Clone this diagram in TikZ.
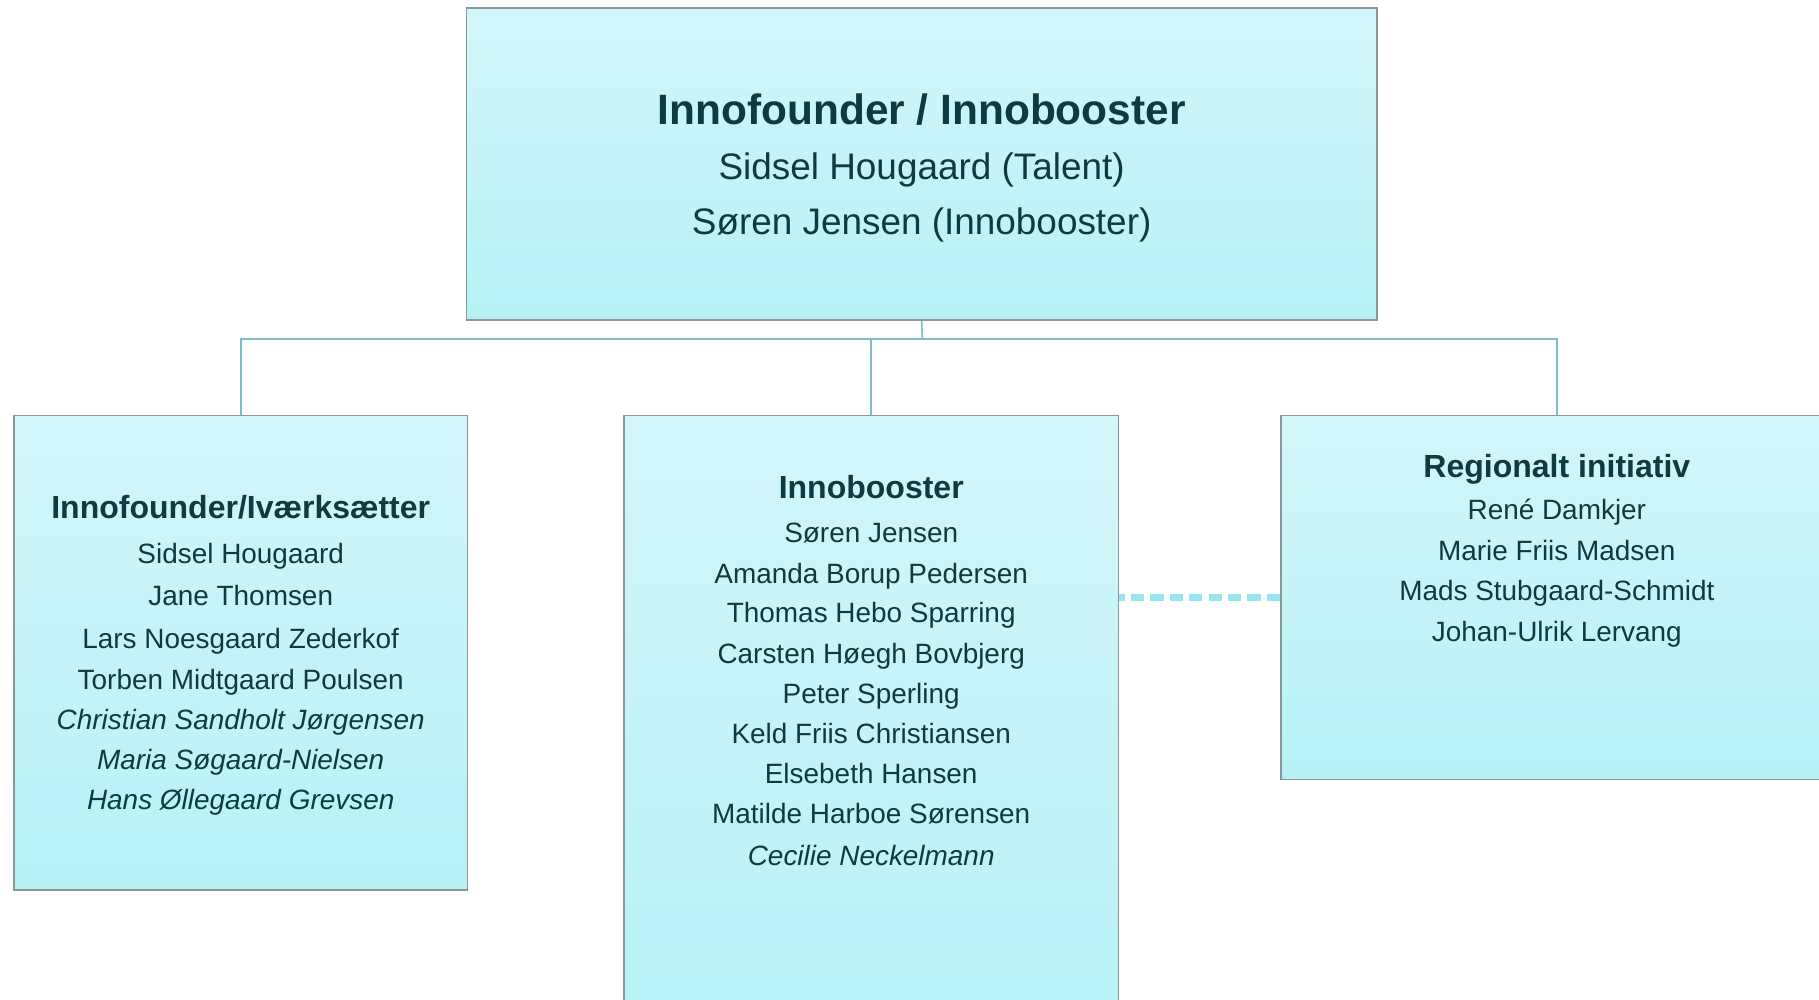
\documentclass[tikz,border=0pt]{standalone}
\usepackage{fontspec}
\setmainfont{Liberation Sans}
\usetikzlibrary{positioning}
\definecolor{boxtop}{HTML}{D2F6F9}
\definecolor{boxbot}{HTML}{B6F1F6}
\definecolor{boxline}{HTML}{8A9799}
\definecolor{linkcol}{HTML}{7BC0C5}
\definecolor{dashcol}{HTML}{95E6EE}
\definecolor{ink}{HTML}{0D3B42}

\begin{document}
\begin{tikzpicture}[x=0.2mm,y=-0.2mm,
  box/.style={draw=boxline, line width=0.8pt, top color=boxtop, bottom color=boxbot, inner sep=0pt},
  link/.style={draw=linkcol, line width=0.8pt},
  dashlink/.style={draw=dashcol, line width=3pt, dash pattern=on 6.5pt off 3pt},
  txt/.style={text=ink, anchor=base, inner sep=0pt, font=\fontsize{13.7}{16}\selectfont},
  ttl/.style={txt, font=\fontsize{15.7}{18}\selectfont\bfseries}]
\useasboundingbox (0,0) rectangle (1568,862);

\node[box, minimum width=157mm, minimum height=53.8mm] (top) at (794.5,141.5) {};
\node[box, minimum width=78.2mm, minimum height=81.8mm] (left) at (207.5,562.5) {};
\node[box, minimum width=85.2mm, minimum height=110mm] (mid) at (751,633) {};
\node[box, minimum width=95.2mm, minimum height=62.8mm] (right) at (1342,515) {};

\coordinate (bus) at (795,292);
\draw[link] (top.south) -- (bus);
\draw[link] (bus) -| (left.north);
\draw[link] (bus) -| (mid.north);
\draw[link] (bus) -| (right.north);
\draw[dashlink] (right.west) -- (right.west -| mid.east);

\node[txt, font=\fontsize{20.8}{24}\selectfont\bfseries] (toptitle) at (794.5,107) {Innofounder / Innobooster};
\node[txt, font=\fontsize{18.1}{22}\selectfont] (topa) at (794.5,155) {Sidsel Hougaard (Talent)};
\node[txt, font=\fontsize{18.1}{22}\selectfont] (topb) at (794.5,202) {Søren Jensen (Innobooster)};

\node[ttl] (lefttitle) at (207.5,447) {Innofounder/Iværksætter};
\foreach \nm / \y [count=\i] in {Sidsel Hougaard/486, Jane Thomsen/522,
  Lars Noesgaard Zederkof/559, Torben Midtgaard Poulsen/594,
  \textit{Christian Sandholt Jørgensen}/629, \textit{Maria Søgaard-Nielsen}/663,
  \textit{Hans Øllegaard Grevsen}/698} {
\node[txt] (left\i) at (207.5,\y) {\nm};
}

\node[ttl] (midtitle) at (751,430) {Innobooster};
\foreach \nm / \y [count=\i] in {Søren Jensen/468, Amanda Borup Pedersen/503,
  Thomas Hebo Sparring/537, Carsten Høegh Bovbjerg/572, Peter Sperling/606,
  Keld Friis Christiansen/641, Elsebeth Hansen/675, Matilde Harboe Sørensen/710,
  \textit{Cecilie Neckelmann}/746} {
\node[txt] (mid\i) at (751,\y) {\nm};
}

\node[ttl] (righttitle) at (1342,412) {Regionalt initiativ};
\foreach \nm / \y [count=\i] in {René Damkjer/448, Marie Friis Madsen/483,
  Mads Stubgaard-Schmidt/518, Johan-Ulrik Lervang/553} {
\node[txt] (right\i) at (1342,\y) {\nm};
}
\end{tikzpicture}
\end{document}
